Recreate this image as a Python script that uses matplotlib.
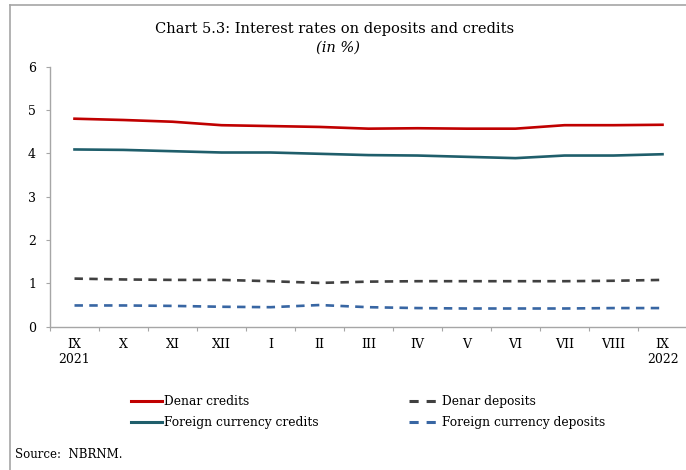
import numpy as np
import matplotlib.pyplot as plt
from matplotlib.lines import Line2D

plt.rcParams['font.family'] = ['DejaVu Serif']

# monthly data, IX 2021 - IX 2022
months = ['IX\n2021', 'X', 'XI', 'XII', 'I', 'II', 'III', 'IV', 'V', 'VI', 'VII', 'VIII', 'IX\n2022']
denar_credits = [4.80, 4.77, 4.73, 4.65, 4.63, 4.61, 4.57, 4.58, 4.57, 4.57, 4.65, 4.65, 4.66]
fx_credits = [4.09, 4.08, 4.05, 4.02, 4.02, 3.99, 3.96, 3.95, 3.92, 3.89, 3.95, 3.95, 3.98]
denar_deposits = [1.11, 1.09, 1.08, 1.08, 1.05, 1.01, 1.04, 1.05, 1.05, 1.05, 1.05, 1.06, 1.08]
fx_deposits = [0.49, 0.49, 0.48, 0.46, 0.45, 0.50, 0.45, 0.43, 0.42, 0.42, 0.42, 0.43, 0.43]

W, H = 686, 470
fig = plt.figure(figsize=(W / 100, H / 100), dpi=100)
ax = fig.add_axes([50 / W, 1 - 326.7 / H, 637 / W, 260 / H])

x = np.arange(len(months))
styles = [
    (denar_credits, '#C00000', None, 'Denar credits'),
    (fx_credits, '#1F5E6B', None, 'Foreign currency credits'),
    (denar_deposits, '#404040', (3.2, 2.4), 'Denar deposits'),
    (fx_deposits, '#3866A3', (3.2, 2.4), 'Foreign currency deposits'),
]
handles = []
for vals, col, dash, lab in styles:
    if dash:
        ax.plot(x, vals, color=col, lw=1.9, dashes=dash)
        handles.append(Line2D([], [], color=col, lw=2.2, dashes=(3.0, 2.6), label=lab))
    else:
        ax.plot(x, vals, color=col, lw=1.9)
        handles.append(Line2D([], [], color=col, lw=2.2, label=lab))

ax.set_xlim(-0.5, len(months) - 0.5)
ax.set_ylim(0, 6)
ax.set_yticks(range(0, 7))
ax.set_xticks(np.arange(-0.5, len(months), 1))
ax.set_xticklabels([])
ax.set_xticks(x, minor=True)
ax.set_xticklabels(months, minor=True, fontsize=9)
ax.tick_params(axis='x', which='minor', length=0, pad=8)
ax.tick_params(axis='x', which='major', length=3, color='#A6A6A6', direction='out')
ax.tick_params(axis='y', length=3, color='#A6A6A6', labelsize=9, pad=7)

for s in ['top', 'right']:
    ax.spines[s].set_visible(False)
for s in ['left', 'bottom']:
    ax.spines[s].set_color('#A6A6A6')
    ax.spines[s].set_linewidth(1.0)

fig.text(335 / W, 1 - 28.5 / H, 'Chart 5.3: Interest rates on deposits and credits',
         ha='center', va='center', fontsize=10.5)
fig.text(338 / W, 1 - 48 / H, '(in %)', ha='center', va='center', fontsize=10.5, style='italic')

fig.legend(handles=handles, loc='upper left', bbox_to_anchor=(120 / W, 1 - 384 / H), ncol=2,
           frameon=False, fontsize=8.8, handlelength=2.55, handletextpad=0.15, columnspacing=7.4,
           labelspacing=0.65)

fig.text(15 / W, 1 - 455 / H, 'Source:  NBRNM.', ha='left', va='center', fontsize=8.5)

# frame around the chart (top and left edge visible)
fig.add_artist(Line2D([10 / W, 1], [1 - 5 / H, 1 - 5 / H], color='#A6A6A6', lw=1.2))
fig.add_artist(Line2D([10 / W, 10 / W], [0, 1 - 5 / H], color='#A6A6A6', lw=1.2))

fig.savefig('out.png', dpi=100)
